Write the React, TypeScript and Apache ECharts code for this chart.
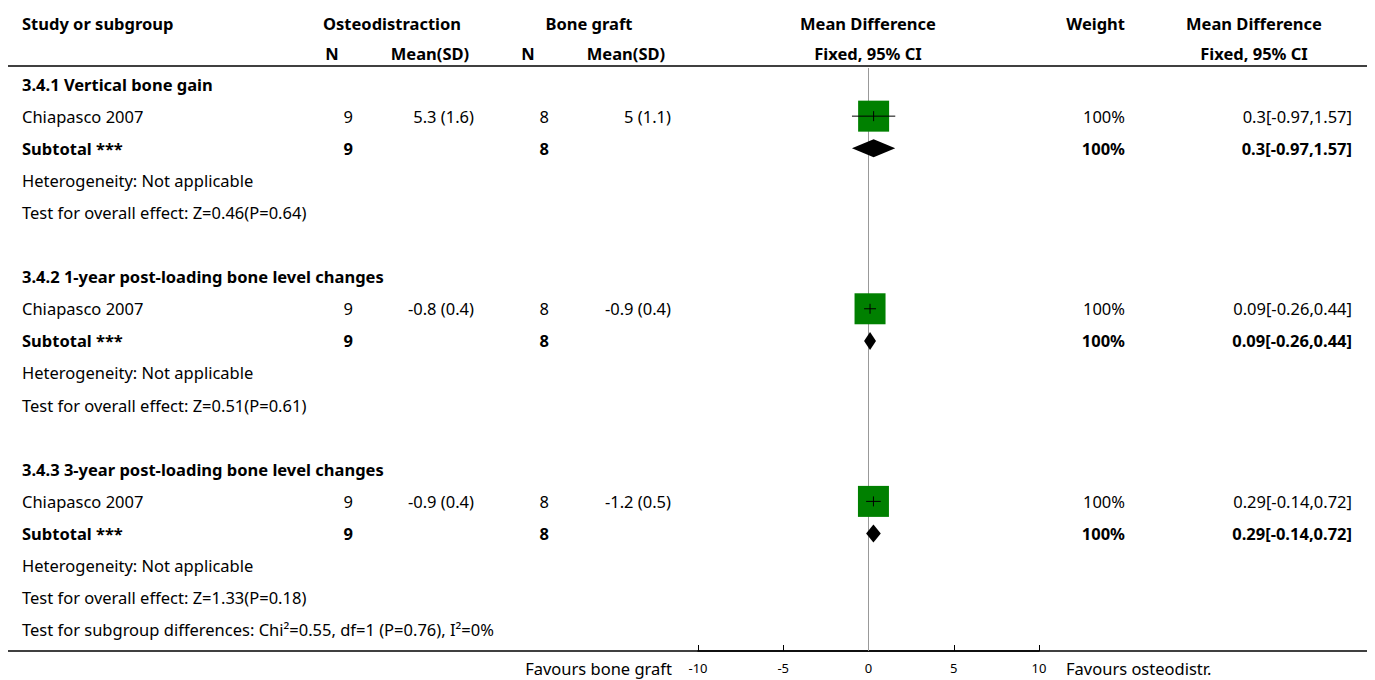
import React, { useEffect, useRef } from "react";
import * as echarts from "echarts";

const subgroupTitles = [
  "3.4.1 Vertical bone gain",
  "3.4.2 1-year post-loading bone level changes",
  "3.4.3 3-year post-loading bone level changes",
];
const studyNames = ["Chiapasco 2007", "Chiapasco 2007", "Chiapasco 2007"];
const nOsteo = [9, 9, 9];
const meanOsteo = ["5.3", "-0.8", "-0.9"];
const sdOsteo = ["1.6", "0.4", "0.4"];
const nGraft = [8, 8, 8];
const meanGraft = ["5", "-0.9", "-1.2"];
const sdGraft = ["1.1", "0.4", "0.5"];
const md = [0.3, 0.09, 0.29];
const ciLow = [-0.97, -0.26, -0.14];
const ciHigh = [1.57, 0.44, 0.72];
const weights = [100, 100, 100];
const heterogeneity = ["Not applicable", "Not applicable", "Not applicable"];
const overallEffect = ["Z=0.46(P=0.64)", "Z=0.51(P=0.61)", "Z=1.33(P=0.18)"];
const subgroupTest = "Test for subgroup differences: Chi\u00b2=0.55, df=1 (P=0.76), I\u00b2=0%";
const xTicks = [-10, -5, 0, 5, 10];
const favoursLeft = "Favours bone graft";
const favoursRight = "Favours osteodistr.";

const FONT = "'Noto Sans', sans-serif";
const FS = 16.5;

export default function App() {
  const ref = useRef<HTMLDivElement>(null);
  useEffect(() => {
    if (!ref.current) return;
    const chart = echarts.init(ref.current, null, { renderer: "svg" });
    const W = 1375;
    const H = 680;
    const gridTop = 68;
    const axisY = 651;
    const yMin = -0.5;
    const yMax = 17.66;
    const pitch = (axisY - gridTop) / (yMax - yMin);
    const rowY = (i: number) => gridTop + (i - yMin) * pitch;

    type Row = { kind: string; g: number };
    const rows: Row[] = [];
    subgroupTitles.forEach((_, g) => {
      rows.push({ kind: "title", g });
      rows.push({ kind: "study", g });
      rows.push({ kind: "subtotal", g });
      rows.push({ kind: "het", g });
      rows.push({ kind: "effect", g });
      if (g < subgroupTitles.length - 1) rows.push({ kind: "blank", g });
    });
    rows.push({ kind: "subtest", g: -1 });

    const graphics: any[] = [];
    const txt = (
      text: string,
      x: number,
      y: number,
      align: string = "left",
      bold = false
    ) => {
      graphics.push({
        type: "text",
        x,
        y,
        style: {
          text,
          fill: "#000",
          font: `${bold ? "bold " : ""}${FS}px ${FONT}`,
          textAlign: align,
          textVerticalAlign: "middle",
        },
      });
    };

    // header
    txt("Study or subgroup", 22, 23, "left", true);
    txt("Osteodistraction", 392, 23, "center", true);
    txt("Bone graft", 589, 23, "center", true);
    txt("Mean Difference", 868, 23, "center", true);
    txt("Weight", 1125, 23, "right", true);
    txt("Mean Difference", 1254, 23, "center", true);
    txt("N", 332, 53, "center", true);
    txt("Mean(SD)", 430, 53, "center", true);
    txt("N", 528, 53, "center", true);
    txt("Mean(SD)", 626, 53, "center", true);
    txt("Fixed, 95% CI", 868, 53, "center", true);
    txt("Fixed, 95% CI", 1254, 53, "center", true);

    const ci = (g: number) => `${md[g]}[${ciLow[g]},${ciHigh[g]}]`;
    const forestData: any[] = [];
    rows.forEach((r, i) => {
      const y = rowY(i);
      const g = r.g;
      if (r.kind === "title") txt(subgroupTitles[g], 22, y, "left", true);
      if (r.kind === "study") {
        txt(studyNames[g], 22, y);
        txt(String(nOsteo[g]), 353, y, "right");
        txt(`${meanOsteo[g]} (${sdOsteo[g]})`, 474, y, "right");
        txt(String(nGraft[g]), 549, y, "right");
        txt(`${meanGraft[g]} (${sdGraft[g]})`, 671, y, "right");
        txt(`${weights[g]}%`, 1125, y, "right");
        txt(ci(g), 1352, y, "right");
        forestData.push([i, md[g], ciLow[g], ciHigh[g], 0, weights[g]]);
      }
      if (r.kind === "subtotal") {
        txt("Subtotal ***", 22, y, "left", true);
        txt(String(nOsteo[g]), 353, y, "right", true);
        txt(String(nGraft[g]), 549, y, "right", true);
        txt(`${weights[g]}%`, 1125, y, "right", true);
        txt(ci(g), 1352, y, "right", true);
        forestData.push([i, md[g], ciLow[g], ciHigh[g], 1, weights[g]]);
      }
      if (r.kind === "het") txt(`Heterogeneity: ${heterogeneity[g]}`, 22, y);
      if (r.kind === "effect") txt(`Test for overall effect: ${overallEffect[g]}`, 22, y);
      if (r.kind === "subtest") txt(subgroupTest, 22, y);
    });

    txt(favoursLeft, 672, 668, "right");
    txt(favoursRight, 1066, 668, "left");

    graphics.push({
      type: "line",
      shape: { x1: 8, y1: 66, x2: 1367, y2: 66 },
      style: { stroke: "#000", lineWidth: 1.5 },
    });
    graphics.push({
      type: "line",
      shape: { x1: 8, y1: axisY, x2: 1367, y2: axisY },
      style: { stroke: "#000", lineWidth: 1.5 },
    });

    chart.setOption({
      animation: false,
      grid: { left: 698, right: W - 1039, top: gridTop, bottom: H - axisY },
      xAxis: {
        type: "value",
        min: -10,
        max: 10,
        interval: 5,
        splitLine: { show: false },
        axisLine: { show: true, onZero: false, lineStyle: { color: "#000", width: 1.5 } },
        axisTick: { show: true, inside: true, length: 6, lineStyle: { color: "#000", width: 1 } },
        axisLabel: {
          color: "#000",
          fontFamily: FONT,
          fontSize: 13,
          margin: 10,
          customValues: xTicks,
        },
      },
      yAxis: {
        type: "value",
        inverse: true,
        min: yMin,
        max: yMax,
        show: false,
      },
      graphic: graphics,
      series: [
        {
          type: "line",
          data: [
            [0, yMin],
            [0, yMax],
          ],
          symbol: "none",
          silent: true,
          lineStyle: { color: "#999", width: 1 },
          z: 1,
        },
        {
          type: "custom",
          data: forestData,
          z: 5,
          renderItem: (params: any, api: any) => {
            const row = api.value(0);
            const est = api.value(1);
            const lo = api.value(2);
            const hi = api.value(3);
            const kind = api.value(4);
            const w = api.value(5);
            const c = api.coord([est, row]);
            const l = api.coord([lo, row]);
            const h = api.coord([hi, row]);
            if (kind === 1) {
              const hh = 9;
              return {
                type: "polygon",
                shape: {
                  points: [
                    [l[0], c[1]],
                    [c[0], c[1] - hh],
                    [h[0], c[1]],
                    [c[0], c[1] + hh],
                  ],
                },
                style: { fill: "#000" },
              };
            }
            const size = 31 * Math.sqrt(w / 100);
            return {
              type: "group",
              children: [
                {
                  type: "rect",
                  shape: { x: c[0] - size / 2, y: c[1] - size / 2, width: size, height: size },
                  style: { fill: "#008000" },
                },
                {
                  type: "line",
                  shape: { x1: l[0], y1: c[1], x2: h[0], y2: c[1] },
                  style: { stroke: "#000", lineWidth: 1 },
                },
                {
                  type: "line",
                  shape: { x1: c[0], y1: c[1] - 5, x2: c[0], y2: c[1] + 5 },
                  style: { stroke: "#000", lineWidth: 1 },
                },
              ],
            };
          },
        },
      ],
    });
    return () => chart.dispose();
  }, []);
  return <div ref={ref} style={{ width: 1375, height: 680, position: "absolute", left: 0, top: 0 }} />;
}
